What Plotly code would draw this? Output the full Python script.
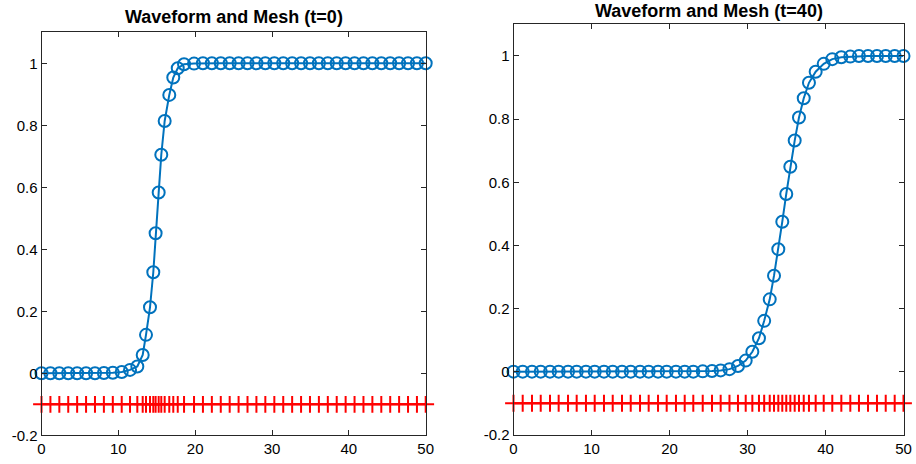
import plotly.graph_objects as go

# ---- Data ----
x_t0 = [0.0, 1.16, 2.32, 3.48, 4.64, 5.80, 6.96, 8.12, 9.28, 10.44,
        11.52, 12.47, 13.17, 13.60, 14.12, 14.55, 14.85, 15.25, 15.59, 16.03,
        16.63, 17.15, 17.73, 18.55,
        19.85, 21.01, 22.17, 23.33, 24.49, 25.65, 26.81, 27.97, 29.13, 30.30,
        31.46, 32.62, 33.78, 34.94, 36.10, 37.26, 38.42, 39.58, 40.74, 41.90,
        43.06, 44.22, 45.38, 46.54, 47.70, 48.86, 50.0]
u_t0 = [0.0, 0.0, 0.0, 0.0, 0.0, 0.0, 0.0, 0.001, 0.002, 0.004,
        0.011, 0.022, 0.059, 0.124, 0.213, 0.326, 0.452, 0.583, 0.705, 0.814,
        0.898, 0.954, 0.984, 0.997,
        0.999, 1.0, 1.0, 1.0, 1.0, 1.0, 1.0, 1.0, 1.0, 1.0,
        1.0, 1.0, 1.0, 1.0, 1.0, 1.0, 1.0, 1.0, 1.0, 1.0,
        1.0, 1.0, 1.0, 1.0, 1.0, 1.0, 1.0]

x_t40 = [0.0, 1.18, 2.37, 3.49, 4.68, 5.79, 6.99, 8.10, 9.29, 10.41,
         11.60, 12.72, 13.91, 15.03, 16.22, 17.33, 18.53, 19.64, 20.83, 21.95,
         23.05, 24.26, 25.45, 26.56, 27.69, 28.78, 29.77, 30.62, 31.47, 32.14,
         32.85, 33.40, 33.95, 34.46, 34.97, 35.49, 36.05, 36.60, 37.21, 37.88,
         38.74, 39.77, 40.87, 42.03, 43.18, 44.29, 45.45, 46.60, 47.72, 48.87,
         50.0]
u_t40 = [0.0, 0.0, 0.0, 0.0, 0.0, 0.0, 0.0, 0.0, 0.0, 0.0,
         0.0, 0.0, 0.0, 0.0, 0.0, 0.0, 0.0, 0.0, 0.0, 0.0,
         0.0, 0.001, 0.002, 0.004, 0.008, 0.018, 0.035, 0.063, 0.106, 0.161,
         0.229, 0.304, 0.388, 0.475, 0.563, 0.649, 0.732, 0.805, 0.866, 0.915,
         0.950, 0.975, 0.990, 0.996, 0.998, 1.0, 1.0, 1.0, 1.0, 1.0,
         1.0]

mesh_level = -0.1
titles = ["Waveform and Mesh (t=0)", "Waveform and Mesh (t=40)"]
x_ticks = [0, 10, 20, 30, 40, 50]
y_ticks = [-0.2, 0, 0.2, 0.4, 0.6, 0.8, 1]
y_ticklabels = ["-0.2", "0", "0.2", "0.4", "0.6", "0.8", "1"]

BLUE = "#0072BD"
RED = "#FF0000"
AXC = "#262626"
FONT = "Liberation Sans, Arial, sans-serif"

fig = go.Figure()

panels = [(x_t0, u_t0, "x", "y"), (x_t40, u_t40, "x2", "y2")]
for xs, us, xa, ya in panels:
    fig.add_trace(go.Scatter(
        x=xs, y=[mesh_level] * len(xs), xaxis=xa, yaxis=ya,
        mode="lines+markers", cliponaxis=False,
        line=dict(color=RED, width=2),
        marker=dict(symbol="cross-thin", size=12, line=dict(color=RED, width=2)),
        showlegend=False, hoverinfo="skip"))
    fig.add_trace(go.Scatter(
        x=xs, y=us, xaxis=xa, yaxis=ya,
        mode="lines+markers", cliponaxis=False,
        line=dict(color=BLUE, width=2),
        marker=dict(symbol="circle-open", size=12, color=BLUE,
                    line=dict(color=BLUE, width=2)),
        showlegend=False))

W, H = 916, 464
doms = {
    "x": [41.5 / W, 425.7 / W],
    "x2": [513.5 / W, 903.5 / W],
    "y": [(H - 435.3) / H, (H - 32.3) / H],
    "y2": [(H - 434.8) / H, (H - 24.4) / H],
}

axis_common = dict(showline=True, linecolor=AXC, linewidth=1, mirror="ticks",
                   ticks="inside", ticklen=5, tickcolor=AXC, showgrid=False,
                   zeroline=False, automargin=False,
                   tickfont=dict(family=FONT, size=15, color="black"))

fig.update_layout(
    width=W, height=H, margin=dict(l=0, r=0, t=0, b=0, pad=0),
    paper_bgcolor="white", plot_bgcolor="white",
    xaxis=dict(domain=doms["x"], range=[0, 50], tickvals=x_ticks, anchor="y", **axis_common),
    yaxis=dict(domain=doms["y"], range=[-0.2, 1.1], tickvals=y_ticks,
               ticktext=y_ticklabels, anchor="x", **axis_common),
    xaxis2=dict(domain=doms["x2"], range=[0, 50], tickvals=x_ticks, anchor="y2", **axis_common),
    yaxis2=dict(domain=doms["y2"], range=[-0.2, 1.1], tickvals=y_ticks,
                ticktext=y_ticklabels, anchor="x2", **axis_common),
)

title_pos = [((doms["x"][0] + doms["x"][1]) / 2, (H - 17) / H),
             ((doms["x2"][0] + doms["x2"][1]) / 2, (H - 11) / H)]
for t, (px, py) in zip(titles, title_pos):
    fig.add_annotation(text="<b>" + t + "</b>", x=px, y=py, xref="paper", yref="paper",
                       xanchor="center", yanchor="middle", showarrow=False,
                       font=dict(family=FONT, size=18, color="black"))

fig.write_html("out.html", config={"displayModeBar": False},
               post_script="document.body.style.margin='0';document.body.style.overflow='hidden';")
